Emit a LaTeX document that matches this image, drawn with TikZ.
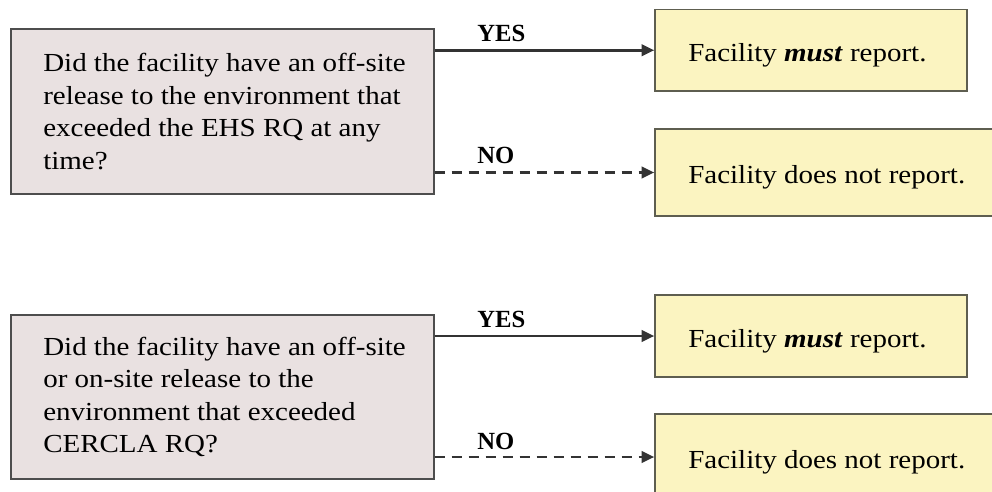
\documentclass[tikz,border=0pt]{standalone}
\usepackage{fontspec}
\setmainfont{Liberation Serif}
\newfontfamily\widefont[FakeStretch=1.115]{Liberation Serif}
\usetikzlibrary{arrows.meta}
\definecolor{qfill}{HTML}{E9E1E1}
\definecolor{qdraw}{HTML}{4D4D4D}
\definecolor{afill}{HTML}{FBF4C1}
\definecolor{adraw}{HTML}{5E5E50}
\definecolor{arrcol}{HTML}{333333}
\begin{document}
\begin{tikzpicture}[x=0.75pt,y=-0.75pt,
  qbox/.style={draw=qdraw, fill=qfill, line width=1.1pt, inner sep=0pt, minimum width=317.25pt},
  abox/.style={draw=adraw, fill=afill, line width=1.1pt, inner sep=0pt},
  txt/.style={inner sep=0pt, font=\widefont\fontsize{19.5pt}{24.4pt}\selectfont},
  qtxt/.style={txt, align=left, anchor=west},
  atxt/.style={txt, anchor=base west},
  lbl/.style={inner sep=0pt, anchor=base west, font=\fontsize{18.5pt}{20pt}\selectfont\bfseries},
  yesarrow/.style={draw=arrcol, line width=2.1pt, -{Triangle[length=9.5pt,width=8.5pt]}},
  noarrow/.style={yesarrow, dash pattern=on 7.5pt off 5.25pt}
]
\useasboundingbox (0,0) rectangle (992,492);
% question boxes
\node[qbox, minimum height=123.75pt] (q1) at (222.5,111.5) {};
\node[qbox, minimum height=123pt] (q2) at (222.5,397) {};
\node[qtxt] (q1t) at (43,111.5) {Did the facility have an off-site\\release to the environment that\\exceeded the EHS RQ at any\\time?};
\node[qtxt] (q2t) at (43,397) {Did the facility have an off-site\\or on-site release to the\\environment that exceeded\\CERCLA RQ?};
% answer boxes
\node[abox, minimum width=234pt, minimum height=61.1pt] (r1) at (811,50.25) {};
\node[abox, minimum width=258.75pt, minimum height=65.25pt] (r2) at (827.5,172.5) {};
\node[abox, minimum width=234pt, minimum height=61.5pt] (r3) at (811,336) {};
\node[abox, minimum width=258.75pt, minimum height=64.5pt] (r4) at (827.5,457) {};
\node[atxt] (r1t) at (688,61.5) {Facility \textit{\textbf{must}} report.};
\node[atxt] (r2t) at (688,183.5) {Facility does not report.};
\node[atxt] (r3t) at (688,347.5) {Facility \textit{\textbf{must}} report.};
\node[atxt] (r4t) at (688,468.5) {Facility does not report.};
% labels
\node[lbl] (y1) at (477,42) {YES};
\node[lbl] (n1) at (477,163) {NO};
\node[lbl] (y2) at (477,327) {YES};
\node[lbl] (n2) at (477,449) {NO};
% connectors
\draw[yesarrow] (r1.west -| q1.east) -- (r1.west);
\draw[noarrow] (r2.west -| q1.east) -- (r2.west);
\draw[yesarrow] (r3.west -| q2.east) -- (r3.west);
\draw[noarrow] (r4.west -| q2.east) -- (r4.west);
\end{tikzpicture}
\end{document}
